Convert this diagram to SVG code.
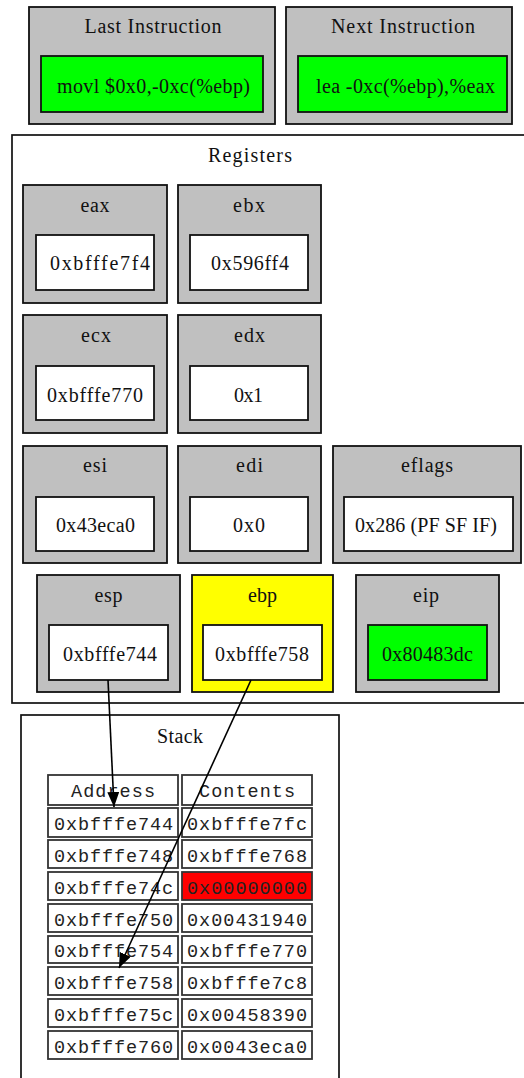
<svg xmlns="http://www.w3.org/2000/svg" width="524" height="1078" viewBox="0 0 524 1078">
  <defs>
    <style>
      .bg { fill: #ffffff; }
      .cluster { fill: #ffffff; stroke: #111111; stroke-width: 1.7; }
      .outer { fill: #c0c0c0; stroke: #111111; stroke-width: 1.8; }
      .outer.hl { fill: #ffff00; }
      .inner { fill: #ffffff; stroke: #111111; stroke-width: 1.8; }
      .inner.go { fill: #00ff00; }
      .cell { fill: #ffffff; stroke: #333333; stroke-width: 1.8; }
      .cell.bad { fill: #ff0000; }
      .serif { font-family: "Liberation Serif", "Times New Roman", serif; font-size: 20px; fill: #111111; text-anchor: middle; }
      .mono { font-family: "Liberation Mono", "Courier New", monospace; font-size: 18.5px; fill: #222222; text-anchor: middle; }
      .edge { fill: none; stroke: #000000; stroke-width: 1.6; }
    </style>
    <marker id="arrow" markerUnits="userSpaceOnUse" markerWidth="15" markerHeight="12" refX="15" refY="6" orient="auto">
      <path d="M0,0 L15,6 L0,12 Z" fill="#000000"/>
    </marker>
  </defs>

  <rect class="bg" x="0" y="0" width="524" height="1078"/>

  <!-- instruction panels -->
  <g id="last_instruction">
    <rect class="outer" x="29" y="7" width="246" height="117"/>
    <text class="serif" x="153" y="33" textLength="137" lengthAdjust="spacing">Last Instruction</text>
    <rect class="inner go" x="41" y="56" width="222" height="56"/>
    <text class="serif" x="153.5" y="93" textLength="193" lengthAdjust="spacing">movl $0x0,-0xc(%ebp)</text>
  </g>
  <g id="next_instruction">
    <rect class="outer" x="286" y="7" width="226" height="117"/>
    <text class="serif" x="403" y="33" textLength="144" lengthAdjust="spacing">Next Instruction</text>
    <rect class="inner go" x="298" y="56" width="209" height="56"/>
    <text class="serif" x="405.5" y="93" textLength="179" lengthAdjust="spacing">lea -0xc(%ebp),%eax</text>
  </g>

  <!-- register file -->
  <g id="registers">
    <rect class="cluster" x="12" y="135" width="530" height="568"/>
    <text class="serif" x="250" y="162" textLength="84" lengthAdjust="spacing">Registers</text>

    <g id="reg_eax">
      <rect class="outer" x="23" y="185" width="144" height="118"/>
      <text class="serif" x="95" y="212" textLength="29" lengthAdjust="spacing">eax</text>
      <rect class="inner" x="36" y="235" width="118" height="55"/>
      <text class="serif" x="100" y="270" textLength="100" lengthAdjust="spacing">0xbfffe7f4</text>
    </g>
    <g id="reg_ebx">
      <rect class="outer" x="178" y="185" width="143" height="118"/>
      <text class="serif" x="249" y="212" textLength="32" lengthAdjust="spacing">ebx</text>
      <rect class="inner" x="190" y="235" width="118" height="55"/>
      <text class="serif" x="250" y="270" textLength="78" lengthAdjust="spacing">0x596ff4</text>
    </g>

    <g id="reg_ecx">
      <rect class="outer" x="23" y="315" width="144" height="118"/>
      <text class="serif" x="96" y="342" textLength="30" lengthAdjust="spacing">ecx</text>
      <rect class="inner" x="36" y="366" width="118" height="54"/>
      <text class="serif" x="95" y="402" textLength="96" lengthAdjust="spacing">0xbfffe770</text>
    </g>
    <g id="reg_edx">
      <rect class="outer" x="178" y="315" width="143" height="118"/>
      <text class="serif" x="249.5" y="342" textLength="31" lengthAdjust="spacing">edx</text>
      <rect class="inner" x="190" y="366" width="118" height="54"/>
      <text class="serif" x="248.5" y="402" textLength="29" lengthAdjust="spacing">0x1</text>
    </g>

    <g id="reg_esi">
      <rect class="outer" x="23" y="446" width="144" height="117"/>
      <text class="serif" x="95" y="472" textLength="24" lengthAdjust="spacing">esi</text>
      <rect class="inner" x="36" y="497" width="118" height="54"/>
      <text class="serif" x="95.5" y="532" textLength="79" lengthAdjust="spacing">0x43eca0</text>
    </g>
    <g id="reg_edi">
      <rect class="outer" x="178" y="446" width="143" height="117"/>
      <text class="serif" x="249.5" y="472" textLength="27" lengthAdjust="spacing">edi</text>
      <rect class="inner" x="190" y="497" width="118" height="54"/>
      <text class="serif" x="249" y="532" textLength="32" lengthAdjust="spacing">0x0</text>
    </g>
    <g id="reg_eflags">
      <rect class="outer" x="333" y="446" width="188" height="117"/>
      <text class="serif" x="427" y="472" textLength="52" lengthAdjust="spacing">eflags</text>
      <rect class="inner" x="344" y="497" width="169" height="54"/>
      <text class="serif" x="426" y="532" textLength="142" lengthAdjust="spacing">0x286 (PF SF IF)</text>
    </g>

    <g id="reg_esp">
      <rect class="outer" x="37" y="575" width="143" height="117"/>
      <text class="serif" x="108.5" y="602" textLength="28" lengthAdjust="spacing">esp</text>
      <rect class="inner" x="49" y="625" width="119" height="55"/>
      <text class="serif" x="110" y="661" textLength="94" lengthAdjust="spacing">0xbfffe744</text>
    </g>
    <g id="reg_ebp">
      <rect class="outer hl" x="192" y="575" width="141" height="117"/>
      <text class="serif" x="262.5" y="602" textLength="29" lengthAdjust="spacing">ebp</text>
      <rect class="inner" x="203" y="625" width="119" height="55"/>
      <text class="serif" x="262" y="661" textLength="94" lengthAdjust="spacing">0xbfffe758</text>
    </g>
    <g id="reg_eip">
      <rect class="outer" x="356" y="575" width="143" height="117"/>
      <text class="serif" x="426" y="602" textLength="26" lengthAdjust="spacing">eip</text>
      <rect class="inner go" x="368" y="625" width="119" height="55"/>
      <text class="serif" x="427.5" y="661" textLength="91" lengthAdjust="spacing">0x80483dc</text>
    </g>
  </g>

  <!-- stack memory table -->
  <g id="stack">
    <rect class="cluster" x="21" y="715" width="318" height="380"/>
    <text class="serif" x="180" y="743" textLength="46" lengthAdjust="spacing">Stack</text>

    <g id="stack_header">
      <rect class="cell" x="48" y="775" width="130" height="30"/>
      <rect class="cell" x="182" y="775" width="130" height="30"/>
      <text class="mono" x="113" y="797" textLength="84" lengthAdjust="spacing">Address</text>
      <text class="mono" x="247" y="797" textLength="96" lengthAdjust="spacing">Contents</text>
    </g>
    <g id="row_744">
      <rect class="cell" x="48" y="808" width="130" height="29"/>
      <rect class="cell" x="182" y="808" width="130" height="29"/>
      <text class="mono" x="113.5" y="830" textLength="119" lengthAdjust="spacing">0xbfffe744</text>
      <text class="mono" x="247" y="830" textLength="120" lengthAdjust="spacing">0xbfffe7fc</text>
    </g>
    <g id="row_748">
      <rect class="cell" x="48" y="840" width="130" height="28"/>
      <rect class="cell" x="182" y="840" width="130" height="28"/>
      <text class="mono" x="113.5" y="862" textLength="119" lengthAdjust="spacing">0xbfffe748</text>
      <text class="mono" x="247" y="862" textLength="120" lengthAdjust="spacing">0xbfffe768</text>
    </g>
    <g id="row_74c">
      <rect class="cell" x="48" y="872" width="130" height="28"/>
      <rect class="cell bad" x="182" y="872" width="130" height="28"/>
      <text class="mono" x="113.5" y="894" textLength="119" lengthAdjust="spacing">0xbfffe74c</text>
      <text class="mono" x="247" y="894" textLength="120" lengthAdjust="spacing">0x00000000</text>
    </g>
    <g id="row_750">
      <rect class="cell" x="48" y="904" width="130" height="28"/>
      <rect class="cell" x="182" y="904" width="130" height="28"/>
      <text class="mono" x="113.5" y="926" textLength="119" lengthAdjust="spacing">0xbfffe750</text>
      <text class="mono" x="247" y="926" textLength="120" lengthAdjust="spacing">0x00431940</text>
    </g>
    <g id="row_754">
      <rect class="cell" x="48" y="936" width="130" height="27"/>
      <rect class="cell" x="182" y="936" width="130" height="27"/>
      <text class="mono" x="113.5" y="957" textLength="119" lengthAdjust="spacing">0xbfffe754</text>
      <text class="mono" x="247" y="957" textLength="120" lengthAdjust="spacing">0xbfffe770</text>
    </g>
    <g id="row_758">
      <rect class="cell" x="48" y="967" width="130" height="28"/>
      <rect class="cell" x="182" y="967" width="130" height="28"/>
      <text class="mono" x="113.5" y="989" textLength="119" lengthAdjust="spacing">0xbfffe758</text>
      <text class="mono" x="247" y="989" textLength="120" lengthAdjust="spacing">0xbfffe7c8</text>
    </g>
    <g id="row_75c">
      <rect class="cell" x="48" y="999" width="130" height="28"/>
      <rect class="cell" x="182" y="999" width="130" height="28"/>
      <text class="mono" x="113.5" y="1021" textLength="119" lengthAdjust="spacing">0xbfffe75c</text>
      <text class="mono" x="247" y="1021" textLength="120" lengthAdjust="spacing">0x00458390</text>
    </g>
    <g id="row_760">
      <rect class="cell" x="48" y="1031" width="130" height="28"/>
      <rect class="cell" x="182" y="1031" width="130" height="28"/>
      <text class="mono" x="113.5" y="1053" textLength="119" lengthAdjust="spacing">0xbfffe760</text>
      <text class="mono" x="247" y="1053" textLength="120" lengthAdjust="spacing">0x0043eca0</text>
    </g>
  </g>

  <!-- pointers from registers into the stack -->
  <g id="connectors">
    <line class="edge" x1="108" y1="680" x2="114" y2="807" marker-end="url(#arrow)"/>
    <line class="edge" x1="251" y1="680" x2="119" y2="968" marker-end="url(#arrow)"/>
  </g>
</svg>
